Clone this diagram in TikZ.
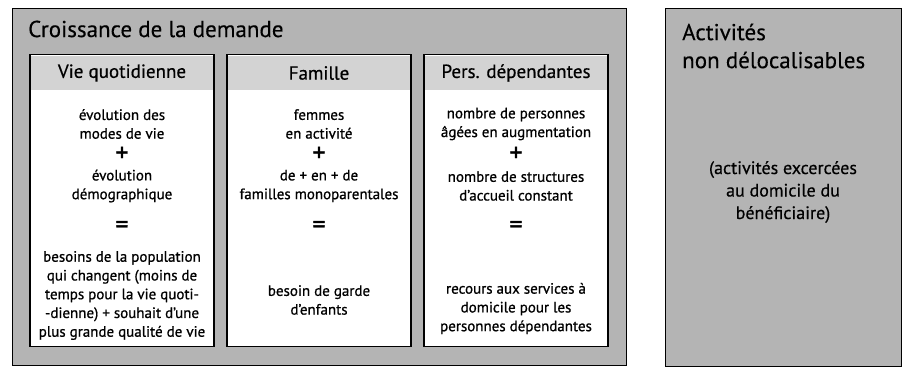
\documentclass[tikz,border=0pt]{standalone}
\usepackage{fontspec}
\setmainfont{PT Sans}
\usetikzlibrary{positioning}
\definecolor{fondgris}{HTML}{B4B4B4}
\definecolor{bandeau}{HTML}{D3D3D3}
\begin{document}
\begin{tikzpicture}[x=1pt, y=1pt,
	cadre/.style={draw=black, line width=1.3pt, fill=fondgris, inner sep=0pt, anchor=north west},
	colonne/.style={draw=black, line width=1.3pt, fill=white, inner sep=0pt, minimum width=184pt, minimum height=292pt, anchor=north},
	entete/.style={inner sep=0pt, font=\fontsize{19}{20}\selectfont\addfontfeature{FakeBold=0.6}},
	texte/.style={align=center, inner sep=0pt, font=\fontsize{15}{18.75}\selectfont\addfontfeature{FakeBold=0.8}},
	signe/.style={inner sep=0pt, font=\fontsize{26}{26}\selectfont\addfontfeature{FakeBold=1.5}},
	titre/.style={anchor=west, align=left, inner sep=0pt, font=\fontsize{23}{28}\selectfont\addfontfeature{FakeBold=0.3}}]
	\path[fill=white] (0,0) rectangle (907,-372);
	\node[cadre, minimum width=614pt, minimum height=357pt] (demande) at (12,-8) {};
	\node[cadre, minimum width=236pt, minimum height=358pt] (activites) at (665,-8) {};
	\node[titre] (titre-demande) at (28,-29) {Croissance de la demande};
	\node[titre] (titre-activites) at (682,-46) {Activités\\non délocalisables};
	\node[texte, font=\fontsize{18}{22.5}\selectfont\addfontfeature{FakeBold=0.5}] (domicile) at (783,-192) {(activités excercées\\au domicile du\\bénéficiaire)};
	\foreach \nom/\x/\tete/\haut/\bas/\res/\yres in {
		vie/122/Vie quotidienne/{évolution des\\modes de vie}/{évolution\\démographique}/{besoins de la population\\qui changent (moins de\\temps pour la vie quoti-\\-dienne) + souhait d’une\\plus grande qualité de vie}/295.5,
		famille/319/Famille/{femmes\\en activité}/{de + en + de\\familles monoparentales}/{besoin de garde\\d’enfants}/300,
		pers/516/Pers. dépendantes/{nombre de personnes\\âgées en augmentation}/{nombre de structures\\d’accueil constant}/{recours aux services à\\domicile pour les\\personnes dépendantes}/308.5}{
		\node[colonne] (\nom) at (\x,-54) {};
		\fill[bandeau] ([shift={(2,-2)}]\nom.north west) rectangle ([shift={(-2,-36)}]\nom.north east);
		\node[entete] (\nom-tete) at (\x,-73) {\tete};
		\node[texte] (\nom-a) at (\x,-124) {\haut};
		\node[signe] (\nom-plus) at (\x,-154) {+};
		\node[texte] (\nom-b) at (\x,-186) {\bas};
		\node[signe] (\nom-egal) at (\x,-227) {=};
		\node[texte] (\nom-res) at (\x,-\yres) {\res};
	}
\end{tikzpicture}
\end{document}
